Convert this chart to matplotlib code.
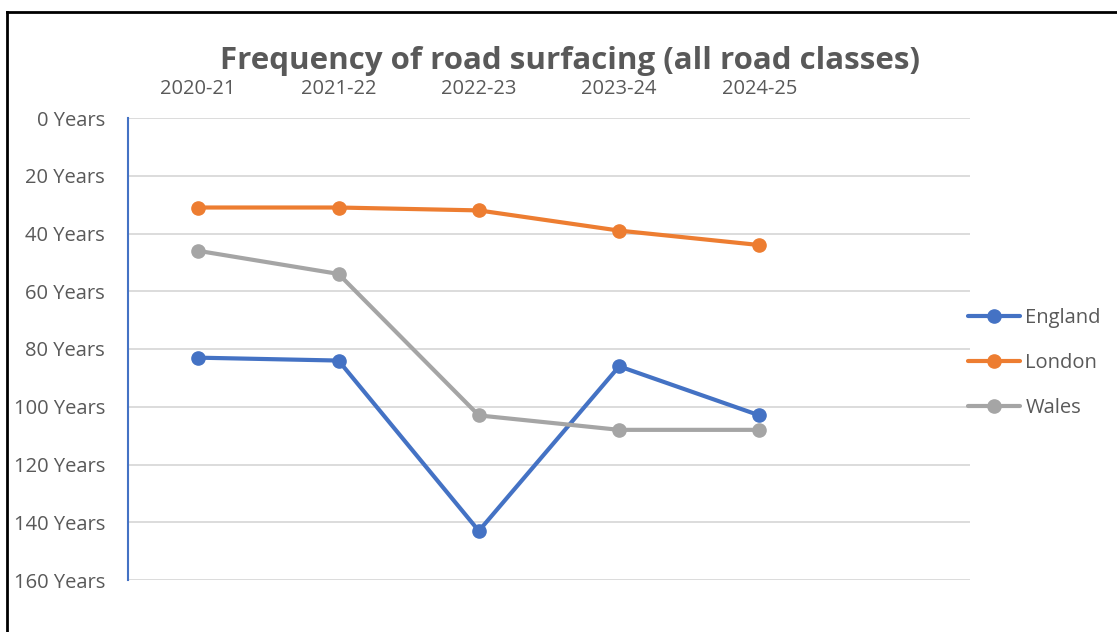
import matplotlib
matplotlib.use("Agg")
import matplotlib.pyplot as plt
from matplotlib.lines import Line2D

years = ['2020-21', '2021-22', '2022-23', '2023-24', '2024-25']
england = [83, 84, 143, 86, 103]
london = [31, 31, 32, 39, 44]
wales = [46, 54, 103, 108, 108]
yticks = [0, 20, 40, 60, 80, 100, 120, 140, 160]

plt.rcParams['font.family'] = ['Open Sans', 'DejaVu Sans']
grey = '#595959'

fig = plt.figure(figsize=(11.17, 6.32), dpi=100)
ax = fig.add_axes([128/1117, 1 - 580/632, 842/1117, 462/632])

x = list(range(len(years)))
for vals, col, name in [(england, '#4472C4', 'England'),
                        (london, '#ED7D31', 'London'),
                        (wales, '#A5A5A5', 'Wales')]:
    ax.plot(x, vals, color=col, lw=3.0, marker='o', ms=9.5,
            solid_joinstyle='round', solid_capstyle='round', label=name)

ax.set_xlim(-0.5, 5.5)
ax.set_ylim(160, 0)
ax.set_yticks(yticks)
ax.set_yticklabels([f'{v} Years' for v in yticks])
ax.set_xticks(x)
ax.set_xticklabels(years)
ax.xaxis.tick_top()
ax.tick_params(axis='x', length=0, pad=14, labelsize=14.5, labelcolor=grey)
ax.tick_params(axis='y', length=0, pad=16.5, labelsize=14.5, labelcolor=grey)

ax.grid(axis='y', color='#D9D9D9', lw=1.3)
ax.set_axisbelow(True)
for s in ['top', 'right', 'bottom']:
    ax.spines[s].set_visible(False)
ax.spines['left'].set_color('#4472C4')
ax.spines['left'].set_linewidth(1.5)

fig.text(570/1117, 1 - 61/632, 'Frequency of road surfacing (all road classes)',
         ha='center', va='center', fontsize=22.5, fontweight='bold', color=grey)

leg = fig.legend(loc='center left', bbox_to_anchor=(968/1117, 1 - 363/632),
                 frameon=False, fontsize=14.5, labelcolor=grey, borderpad=0,
                 borderaxespad=0, handlelength=2.6, handletextpad=0.25,
                 labelspacing=1.25)

# partial border like the pasted screenshot
fig.add_artist(Line2D([7/1117, 1], [1 - 12/632, 1 - 12/632], color='black', lw=2))
fig.add_artist(Line2D([7/1117, 7/1117], [0, 1 - 12/632], color='black', lw=2))

fig.savefig('out.png', dpi=100)
